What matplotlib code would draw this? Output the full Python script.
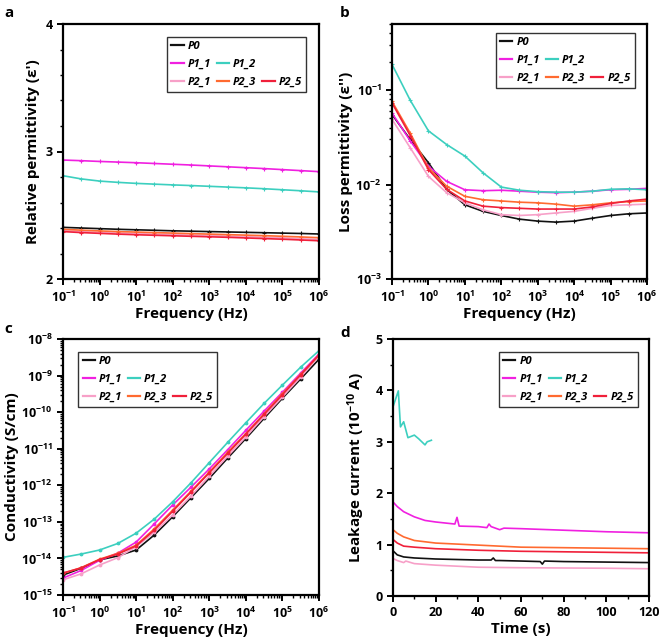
import matplotlib
matplotlib.use("Agg")
import matplotlib.pyplot as plt
import numpy as np
from matplotlib.lines import Line2D
from matplotlib.ticker import LogLocator, MultipleLocator, NullFormatter

plt.rcParams["font.family"] = ["Open Sans", "DejaVu Sans"]
plt.rcParams["font.weight"] = "bold"
plt.rcParams["axes.labelweight"] = "bold"
plt.rcParams["mathtext.fontset"] = "custom"
plt.rcParams["mathtext.rm"] = "Open Sans:bold"
plt.rcParams["mathtext.it"] = "Open Sans:bold:italic"
plt.rcParams["mathtext.bf"] = "Open Sans:bold"

NAMES = ["P0", "P1_1", "P1_2", "P2_1", "P2_3", "P2_5"]
COLORS = ["#111111", "#f020e0", "#3ccfbf", "#f7a0c8", "#ff6a30", "#f0203a"]

# frequency grid (Hz), half decades
freq = [0.1, 0.316, 1, 3.16, 10, 31.6, 100, 316, 1e3, 3.16e3, 1e4, 3.16e4, 1e5, 3.16e5, 1e6]

# (a) relative permittivity
eps_r = {
    "P0":   [2.405, 2.400, 2.395, 2.390, 2.386, 2.382, 2.378, 2.375, 2.372, 2.369, 2.366, 2.363, 2.360, 2.357, 2.353],
    "P1_1": [2.933, 2.928, 2.922, 2.917, 2.912, 2.906, 2.900, 2.894, 2.887, 2.880, 2.873, 2.866, 2.858, 2.850, 2.842],
    "P1_2": [2.810, 2.785, 2.768, 2.758, 2.750, 2.744, 2.738, 2.733, 2.727, 2.721, 2.715, 2.708, 2.700, 2.692, 2.683],
    "P2_1": [2.380, 2.372, 2.366, 2.361, 2.356, 2.352, 2.348, 2.344, 2.340, 2.336, 2.332, 2.327, 2.322, 2.316, 2.310],
    "P2_3": [2.390, 2.383, 2.377, 2.372, 2.368, 2.364, 2.360, 2.356, 2.352, 2.348, 2.344, 2.340, 2.335, 2.330, 2.324],
    "P2_5": [2.372, 2.364, 2.358, 2.352, 2.347, 2.343, 2.339, 2.335, 2.331, 2.327, 2.322, 2.317, 2.312, 2.306, 2.300],
}

# (b) loss permittivity
eps_loss = {
    "P0":   [0.055, 0.030, 0.017, 0.0089, 0.0061, 0.0052, 0.0047, 0.0043, 0.0041, 0.0040, 0.0041, 0.0044, 0.0047, 0.0049, 0.0050],
    "P1_1": [0.057, 0.029, 0.0156, 0.0108, 0.0088, 0.0086, 0.0087, 0.0085, 0.0083, 0.0082, 0.0083, 0.0085, 0.0088, 0.0089, 0.0091],
    "P1_2": [0.187, 0.078, 0.037, 0.0265, 0.020, 0.0133, 0.0094, 0.0087, 0.0084, 0.0083, 0.0083, 0.0085, 0.0089, 0.0090, 0.0088],
    "P2_1": [0.049, 0.0245, 0.0122, 0.0082, 0.0064, 0.0054, 0.0048, 0.0047, 0.0048, 0.0050, 0.0052, 0.0056, 0.0060, 0.0061, 0.0062],
    "P2_3": [0.076, 0.035, 0.015, 0.0096, 0.0075, 0.0069, 0.0067, 0.0065, 0.0064, 0.0062, 0.0059, 0.0061, 0.0064, 0.0066, 0.0067],
    "P2_5": [0.073, 0.033, 0.0144, 0.0089, 0.0067, 0.0059, 0.0057, 0.0056, 0.0055, 0.0055, 0.0055, 0.0058, 0.0063, 0.0067, 0.0070],
}

# (c) conductivity (S/cm)
sigma = {
    "P0":   [3.5e-15, 5.4e-15, 9.1e-15, 1.17e-14, 1.7e-14, 4.4e-14, 1.38e-13, 4.6e-13, 1.55e-12, 5.5e-12, 1.9e-11, 6.8e-11, 2.4e-10, 8.1e-10, 2.8e-9],
    "P1_1": [2.9e-15, 4.7e-15, 8.9e-15, 1.4e-14, 2.8e-14, 8.9e-14, 2.9e-13, 8.9e-13, 2.8e-12, 9.3e-12, 3.2e-11, 1.07e-10, 3.5e-10, 1.17e-9, 3.9e-9],
    "P1_2": [1.07e-14, 1.32e-14, 1.70e-14, 2.57e-14, 4.9e-14, 1.2e-13, 3.55e-13, 1.17e-12, 4.17e-12, 1.48e-11, 5.13e-11, 1.74e-10, 5.5e-10, 1.7e-9, 4.8e-9],
    "P2_1": [2.6e-15, 3.8e-15, 6.6e-15, 1.05e-14, 2.1e-14, 5.2e-14, 1.55e-13, 5.1e-13, 1.78e-12, 6.2e-12, 2.1e-11, 7.6e-11, 2.6e-10, 9.1e-10, 3.4e-9],
    "P2_3": [3.9e-15, 5.6e-15, 9.5e-15, 1.38e-14, 2.3e-14, 6.5e-14, 2.1e-13, 6.9e-13, 2.3e-12, 7.9e-12, 2.6e-11, 9.1e-11, 3.2e-10, 1.07e-9, 3.6e-9],
    "P2_5": [4.0e-15, 5.5e-15, 9.3e-15, 1.32e-14, 2.2e-14, 6.0e-14, 1.95e-13, 6.5e-13, 2.2e-12, 7.4e-12, 2.5e-11, 8.7e-11, 3.0e-10, 1.05e-9, 3.7e-9],
}

# (d) leakage current (1e-10 A) vs time (s)
leak_t = {
    "P0":   [0, 2, 5, 10, 20, 30, 40, 46, 47, 48, 50, 60, 69, 70, 71, 80, 100, 120],
    "P1_1": [0, 2, 5, 10, 15, 20, 29, 30, 31, 40, 44, 45, 46, 50, 52, 60, 80, 100, 120],
    "P1_2": [0, 2.5, 3.5, 5, 7, 10, 12, 15, 16, 18],
    "P2_1": [0, 2, 5, 6, 10, 20, 40, 60, 80, 100, 120],
    "P2_3": [0, 2, 5, 10, 20, 40, 60, 80, 100, 120],
    "P2_5": [0, 2, 5, 10, 20, 40, 60, 80, 100, 120],
}
leak_i = {
    "P0":   [0.88, 0.80, 0.76, 0.74, 0.72, 0.71, 0.70, 0.70, 0.74, 0.69, 0.69, 0.68, 0.67, 0.62, 0.68, 0.67, 0.66, 0.65],
    "P1_1": [1.83, 1.74, 1.64, 1.54, 1.47, 1.44, 1.40, 1.53, 1.36, 1.35, 1.33, 1.40, 1.35, 1.29, 1.32, 1.31, 1.28, 1.25, 1.23],
    "P1_2": [3.68, 3.99, 3.29, 3.39, 3.08, 3.13, 3.06, 2.94, 3.00, 3.03],
    "P2_1": [0.73, 0.69, 0.65, 0.68, 0.63, 0.60, 0.56, 0.55, 0.545, 0.54, 0.53],
    "P2_3": [1.29, 1.22, 1.15, 1.08, 1.03, 0.99, 0.95, 0.94, 0.93, 0.92],
    "P2_5": [1.10, 1.03, 0.97, 0.95, 0.92, 0.89, 0.87, 0.86, 0.85, 0.84],
}


def add_legend(ax, loc, anchor):
    h = {n: Line2D([], [], color=c, lw=1.6) for n, c in zip(NAMES, COLORS)}
    blank = Line2D([], [], alpha=0)
    handles = [h["P0"], h["P1_1"], h["P2_1"], blank, h["P1_2"], h["P2_3"], blank, blank, h["P2_5"]]
    labels = ["P0", "P1_1", "P2_1", "", "P1_2", "P2_3", "", "", "P2_5"]
    leg = ax.legend(handles, labels, ncol=3, loc=loc, bbox_to_anchor=anchor,
                    borderaxespad=0, fancybox=False, edgecolor="black",
                    handlelength=1.1, handletextpad=0.35, columnspacing=0.55,
                    labelspacing=0.6, borderpad=0.4,
                    prop={"size": 8, "style": "italic", "weight": "bold"})
    leg.get_frame().set_linewidth(1.0)


def style(ax):
    for s in ax.spines.values():
        s.set_linewidth(1.6)
    ax.tick_params(which="major", direction="out", length=4, width=1.4, labelsize=9)
    ax.tick_params(which="minor", direction="out", length=2.5, width=1.0)
    ax.tick_params(top=False, right=False, which="both")


def freq_axis(ax):
    ax.set_xscale("log")
    ax.set_xlim(0.1, 1e6)
    ax.xaxis.set_major_locator(LogLocator(base=10, numticks=20))
    ax.xaxis.set_minor_locator(LogLocator(base=10, subs=np.arange(2, 10), numticks=20))
    ax.xaxis.set_minor_formatter(NullFormatter())
    ax.set_xlabel("Frequency (Hz)", fontsize=11, labelpad=2)


fig = plt.figure(figsize=(6.61, 6.41), dpi=100)
W, H = 661, 641


def make_ax(l, t, r, b):
    return fig.add_axes([l / W, 1 - b / H, (r - l) / W, (b - t) / H])


ax_a = make_ax(63, 24, 319, 279)
ax_b = make_ax(392, 24, 647, 279)
ax_c = make_ax(63, 339, 319, 595)
ax_d = make_ax(393, 339, 649, 596)

# a
for n, c in zip(NAMES, COLORS):
    ax_a.plot(freq, eps_r[n], color=c, lw=1.2, marker="+", ms=3, mew=0.8)
freq_axis(ax_a)
ax_a.set_ylim(2, 4)
ax_a.yaxis.set_major_locator(MultipleLocator(1))
ax_a.yaxis.set_minor_locator(MultipleLocator(0.2))
ax_a.set_ylabel("Relative permittivity (ε')", fontsize=11, labelpad=4)
style(ax_a)
add_legend(ax_a, "upper right", (0.95, 0.95))

# b
for n, c in zip(NAMES, COLORS):
    ax_b.plot(freq, eps_loss[n], color=c, lw=1.2, marker="+", ms=3, mew=0.8)
freq_axis(ax_b)
ax_b.set_yscale("log")
ax_b.set_ylim(1e-3, 0.5)
ax_b.yaxis.set_minor_locator(LogLocator(base=10, subs=np.arange(2, 10), numticks=20))
ax_b.yaxis.set_minor_formatter(NullFormatter())
ax_b.set_ylabel("Loss permittivity (ε'')", fontsize=11, labelpad=2)
style(ax_b)
add_legend(ax_b, "upper right", (0.953, 0.965))

# c
for n, c in zip(NAMES, COLORS):
    ax_c.plot(freq, sigma[n], color=c, lw=1.2, marker=".", ms=3.5)
freq_axis(ax_c)
ax_c.set_yscale("log")
ax_c.set_ylim(1e-15, 1e-8)
ax_c.yaxis.set_major_locator(LogLocator(base=10, numticks=20))
ax_c.yaxis.set_minor_locator(LogLocator(base=10, subs=np.arange(2, 10), numticks=20))
ax_c.yaxis.set_minor_formatter(NullFormatter())
ax_c.set_ylabel("Conductivity (S/cm)", fontsize=11, labelpad=2)
style(ax_c)
add_legend(ax_c, "upper left", (0.059, 0.95))

# d
for n, c in zip(NAMES, COLORS):
    ax_d.plot(leak_t[n], leak_i[n], color=c, lw=1.2)
ax_d.set_xlim(0, 120)
ax_d.set_ylim(0, 5)
ax_d.xaxis.set_major_locator(MultipleLocator(20))
ax_d.xaxis.set_minor_locator(MultipleLocator(10))
ax_d.yaxis.set_major_locator(MultipleLocator(1))
ax_d.yaxis.set_minor_locator(MultipleLocator(0.5))
ax_d.set_xlabel("Time (s)", fontsize=11, labelpad=2)
ax_d.set_ylabel("Leakage current (10$^{-10}$ A)", fontsize=11, labelpad=6)
style(ax_d)
add_legend(ax_d, "upper right", (0.957, 0.95))

for lab, x, y in [("a", 4, 6), ("b", 340, 6), ("c", 4, 322), ("d", 340, 326)]:
    fig.text(x / W, 1 - y / H, lab, fontsize=11, fontweight="bold", va="top", ha="left")

fig.savefig("out.png", dpi=100)
